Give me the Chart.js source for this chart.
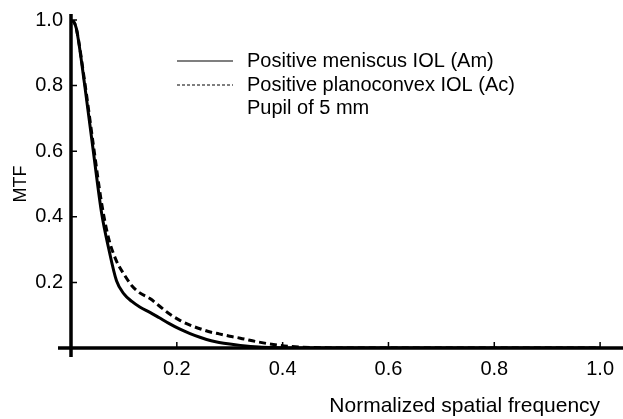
<!DOCTYPE html>
<html>
<head>
  <title>MTF - IOL comparison</title>
  <script src="https://cdn.jsdelivr.net/npm/chart.js"></script>
  <style>
    html, body { margin: 0; padding: 0; background: #fff; }
    #wrap { width: 623px; height: 419px; }
  </style>
</head>
<body>
  <div id="wrap"><canvas id="mtfChart" width="623" height="419"></canvas></div>

  <script>
    // values
    const freq = [0, 0.005, 0.01, 0.026, 0.043, 0.058, 0.071, 0.086, 0.10, 0.115, 0.13, 0.15, 0.167, 0.185,
                  0.205, 0.225, 0.245, 0.265, 0.28, 0.30, 0.32, 0.355, 0.39, 0.43, 0.47, 0.5, 0.75, 1.0];
    const meniscusMTF = [1.0, 0.995, 0.975, 0.80, 0.59, 0.41, 0.305, 0.205, 0.165, 0.142, 0.125, 0.108, 0.092, 0.075,
                         0.058, 0.044, 0.032, 0.022, 0.017, 0.012, 0.008, 0.003, 0.001, 0, 0, 0, 0, 0];
    const planoMTF = [1.0, 0.995, 0.975, 0.81, 0.61, 0.44, 0.335, 0.265, 0.225, 0.19, 0.168, 0.15, 0.128, 0.105,
                      0.085, 0.07, 0.058, 0.048, 0.043, 0.036, 0.03, 0.018, 0.009, 0.003, 0.001, 0, 0, 0];
    const seriesLabels = ['Positive meniscus IOL (Am)', 'Positive planoconvex IOL (Ac)'];
    const legendNote = 'Pupil of 5 mm';
    const xTicks = [0.2, 0.4, 0.6, 0.8, 1.0];
    const yTicks = [0.2, 0.4, 0.6, 0.8, 1.0];

    const FONT = '"Liberation Sans", Arial, sans-serif';

    // axis lines through the origin, small inward ticks, and the legend box
    const decor = {
      id: 'decor',
      afterDatasetsDraw(chart) {
        const c = chart.ctx, xs = chart.scales.x, ys = chart.scales.y;
        const x0 = xs.getPixelForValue(0), y0 = ys.getPixelForValue(0);
        c.save();
        c.strokeStyle = '#000';
        c.lineWidth = 3.5;
        c.beginPath();
        c.moveTo(58, y0); c.lineTo(chart.width, y0);
        c.moveTo(x0, ys.getPixelForValue(1.0) - 6); c.lineTo(x0, y0 + 9);
        c.stroke();
        c.lineWidth = 1.5;
        c.beginPath();
        yTicks.forEach(v => { const p = ys.getPixelForValue(v); c.moveTo(x0, p); c.lineTo(x0 + 6, p); });
        xTicks.forEach(v => { const p = xs.getPixelForValue(v); c.moveTo(p, y0); c.lineTo(p, y0 - 6); });
        c.stroke();

        // legend
        c.fillStyle = '#000';
        c.font = '20px ' + FONT;
        c.textBaseline = 'middle';
        const rows = [61, 85, 108];
        chart.data.datasets.forEach((ds, i) => {
          c.lineWidth = 1.2;
          c.setLineDash(ds.borderDash && ds.borderDash.length ? [3, 2] : []);
          c.beginPath();
          c.moveTo(177, rows[i]); c.lineTo(233, rows[i]);
          c.stroke();
          c.setLineDash([]);
          c.fillText(ds.label, 247, rows[i]);
        });
        c.fillText(legendNote, 247, rows[2]);
        c.restore();
      }
    };

    const ctx = document.getElementById('mtfChart').getContext('2d');
    const mtfChart = new Chart(ctx, {
      type: 'line',
      data: {
        labels: freq,
        datasets: [{
          label: seriesLabels[0],
          data: freq.map((f, i) => ({ x: f, y: meniscusMTF[i] })),
          borderColor: '#000',
          borderWidth: 3,
          pointRadius: 0,
          cubicInterpolationMode: 'monotone'
        }, {
          label: seriesLabels[1],
          data: freq.map((f, i) => ({ x: f, y: planoMTF[i] })),
          borderColor: '#000',
          borderWidth: 3,
          borderDash: [7, 4],
          pointRadius: 0,
          cubicInterpolationMode: 'monotone'
        }]
      },
      options: {
        responsive: false,
        animation: false,
        layout: { padding: { top: 17, right: 21, left: 0, bottom: 0 } },
        plugins: { legend: { display: false }, tooltip: { enabled: false } },
        scales: {
          x: {
            type: 'linear',
            min: 0, max: 1.0,
            border: { display: false },
            grid: { display: false, drawTicks: false },
            afterBuildTicks: s => { s.ticks = xTicks.map(v => ({ value: v })); },
            afterFit: s => { s.height = 71; },
            ticks: {
              color: '#000', padding: 9,
              font: { family: FONT, size: 20 },
              callback: v => v.toFixed(1)
            },
            title: {
              display: true, text: 'Normalized spatial frequency', align: 'end',
              color: '#000', font: { family: FONT, size: 21 },
              padding: { top: 0, bottom: 0 }
            }
          },
          y: {
            min: 0, max: 1.0,
            border: { display: false },
            grid: { display: false, drawTicks: false },
            afterBuildTicks: s => { s.ticks = yTicks.map(v => ({ value: v })); },
            afterFit: s => { s.width = 71; },
            ticks: {
              color: '#000', padding: 8,
              font: { family: FONT, size: 20 },
              callback: v => v.toFixed(1)
            },
            title: {
              display: true, text: 'MTF',
              color: '#000', font: { family: FONT, size: 18 },
              padding: { top: 10, bottom: 0 }
            }
          }
        }
      },
      plugins: [decor]
    });
  </script>
</body>
</html>
